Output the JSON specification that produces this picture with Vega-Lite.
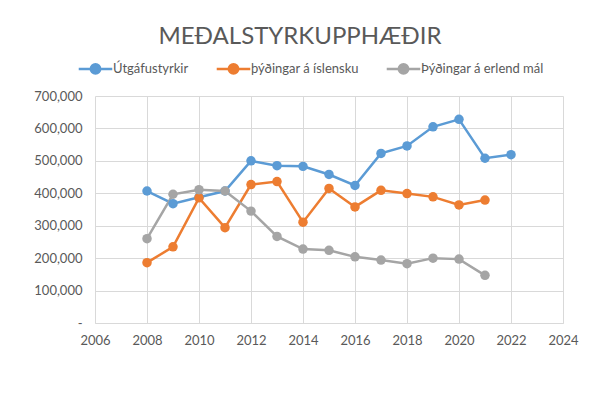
{
  "$schema": "https://vega.github.io/schema/vega-lite/v6.json",
  "width": 468,
  "height": 227,
  "autosize": {"type": "none"},
  "padding": {"left": 95, "top": 96, "right": 37, "bottom": 74},
  "background": "white",
  "title": {
    "text": "MEÐALSTYRKUPPHÆÐIR",
    "fontSize": 24,
    "fontWeight": "normal",
    "font": "Lato",
    "color": "#595959",
    "anchor": "middle",
    "frame": "group",
    "dx": -29,
    "offset": 7
  },
  "config": {
    "view": {"stroke": null},
    "font": "Lato"
  },
  "data": {
    "values": [
      {"ar": 2008, "flokkur": "Útgáfustyrkir", "upphaed": 407000},
      {"ar": 2009, "flokkur": "Útgáfustyrkir", "upphaed": 368000},
      {"ar": 2010, "flokkur": "Útgáfustyrkir", "upphaed": 388000},
      {"ar": 2011, "flokkur": "Útgáfustyrkir", "upphaed": 407000},
      {"ar": 2012, "flokkur": "Útgáfustyrkir", "upphaed": 500000},
      {"ar": 2013, "flokkur": "Útgáfustyrkir", "upphaed": 485000},
      {"ar": 2014, "flokkur": "Útgáfustyrkir", "upphaed": 483000},
      {"ar": 2015, "flokkur": "Útgáfustyrkir", "upphaed": 458000},
      {"ar": 2016, "flokkur": "Útgáfustyrkir", "upphaed": 424000},
      {"ar": 2017, "flokkur": "Útgáfustyrkir", "upphaed": 523000},
      {"ar": 2018, "flokkur": "Útgáfustyrkir", "upphaed": 546000},
      {"ar": 2019, "flokkur": "Útgáfustyrkir", "upphaed": 605000},
      {"ar": 2020, "flokkur": "Útgáfustyrkir", "upphaed": 628000},
      {"ar": 2021, "flokkur": "Útgáfustyrkir", "upphaed": 508000},
      {"ar": 2022, "flokkur": "Útgáfustyrkir", "upphaed": 519000},
      {"ar": 2008, "flokkur": "þýðingar á íslensku", "upphaed": 186000},
      {"ar": 2009, "flokkur": "þýðingar á íslensku", "upphaed": 235000},
      {"ar": 2010, "flokkur": "þýðingar á íslensku", "upphaed": 386000},
      {"ar": 2011, "flokkur": "þýðingar á íslensku", "upphaed": 294000},
      {"ar": 2012, "flokkur": "þýðingar á íslensku", "upphaed": 427000},
      {"ar": 2013, "flokkur": "þýðingar á íslensku", "upphaed": 436000},
      {"ar": 2014, "flokkur": "þýðingar á íslensku", "upphaed": 311000},
      {"ar": 2015, "flokkur": "þýðingar á íslensku", "upphaed": 415000},
      {"ar": 2016, "flokkur": "þýðingar á íslensku", "upphaed": 358000},
      {"ar": 2017, "flokkur": "þýðingar á íslensku", "upphaed": 409000},
      {"ar": 2018, "flokkur": "þýðingar á íslensku", "upphaed": 399000},
      {"ar": 2019, "flokkur": "þýðingar á íslensku", "upphaed": 389000},
      {"ar": 2020, "flokkur": "þýðingar á íslensku", "upphaed": 364000},
      {"ar": 2021, "flokkur": "þýðingar á íslensku", "upphaed": 379000},
      {"ar": 2008, "flokkur": "Þýðingar á erlend mál", "upphaed": 260000},
      {"ar": 2009, "flokkur": "Þýðingar á erlend mál", "upphaed": 397000},
      {"ar": 2010, "flokkur": "Þýðingar á erlend mál", "upphaed": 411000},
      {"ar": 2011, "flokkur": "Þýðingar á erlend mál", "upphaed": 407000},
      {"ar": 2012, "flokkur": "Þýðingar á erlend mál", "upphaed": 345000},
      {"ar": 2013, "flokkur": "Þýðingar á erlend mál", "upphaed": 267000},
      {"ar": 2014, "flokkur": "Þýðingar á erlend mál", "upphaed": 228000},
      {"ar": 2015, "flokkur": "Þýðingar á erlend mál", "upphaed": 224000},
      {"ar": 2016, "flokkur": "Þýðingar á erlend mál", "upphaed": 204000},
      {"ar": 2017, "flokkur": "Þýðingar á erlend mál", "upphaed": 194000},
      {"ar": 2018, "flokkur": "Þýðingar á erlend mál", "upphaed": 183000},
      {"ar": 2019, "flokkur": "Þýðingar á erlend mál", "upphaed": 200000},
      {"ar": 2020, "flokkur": "Þýðingar á erlend mál", "upphaed": 197000},
      {"ar": 2021, "flokkur": "Þýðingar á erlend mál", "upphaed": 147000}
    ]
  },
  "mark": {
    "type": "line",
    "strokeWidth": 2.5,
    "point": {"filled": true, "size": 90, "opacity": 1}
  },
  "encoding": {
    "x": {
      "field": "ar",
      "type": "quantitative",
      "scale": {"domain": [2006, 2024], "nice": false, "zero": false},
      "axis": {
        "title": null,
        "values": [2006, 2008, 2010, 2012, 2014, 2016, 2018, 2020, 2022, 2024],
        "format": "d",
        "grid": true,
        "gridColor": "#D9D9D9",
        "domainColor": "#D9D9D9",
        "ticks": false,
        "labelColor": "#595959",
        "labelFontSize": 13,
        "labelPadding": 11,
        "labelFlush": false
      }
    },
    "y": {
      "field": "upphaed",
      "type": "quantitative",
      "scale": {"domain": [0, 700000], "nice": false},
      "axis": {
        "title": null,
        "values": [0, 100000, 200000, 300000, 400000, 500000, 600000, 700000],
        "labelExpr": "datum.value == 0 ? '-\u00a0\u00a0\u00a0\u00a0' : format(datum.value, ',')",
        "grid": true,
        "gridColor": "#D9D9D9",
        "domain": false,
        "ticks": false,
        "labelColor": "#595959",
        "labelFontSize": 13,
        "labelPadding": 13
      }
    },
    "color": {
      "field": "flokkur",
      "type": "nominal",
      "sort": ["Útgáfustyrkir", "þýðingar á íslensku", "Þýðingar á erlend mál"],
      "scale": {
        "domain": ["Útgáfustyrkir", "þýðingar á íslensku", "Þýðingar á erlend mál"],
        "range": ["#5B9BD5", "#ED7D31", "#A5A5A5"]
      },
      "legend": {
        "title": null,
        "orient": "none",
        "direction": "horizontal",
        "legendX": -12,
        "legendY": -40,
        "symbolType": "M-1.5,0L1.5,0M0.42,0A0.42,0.42 0 1 1 -0.42,0A0.42,0.42 0 1 1 0.42,0",
        "symbolSize": 500,
        "symbolStrokeWidth": 2.5,
        "labelFontSize": 13,
        "labelColor": "#595959",
        "labelOffset": 5,
        "columnPadding": 22,
        "encode": {
          "symbols": {
            "update": {
              "fill": {"scale": "color", "field": "value"},
              "opacity": {"value": 1}
            }
          }
        }
      }
    }
  }
}
